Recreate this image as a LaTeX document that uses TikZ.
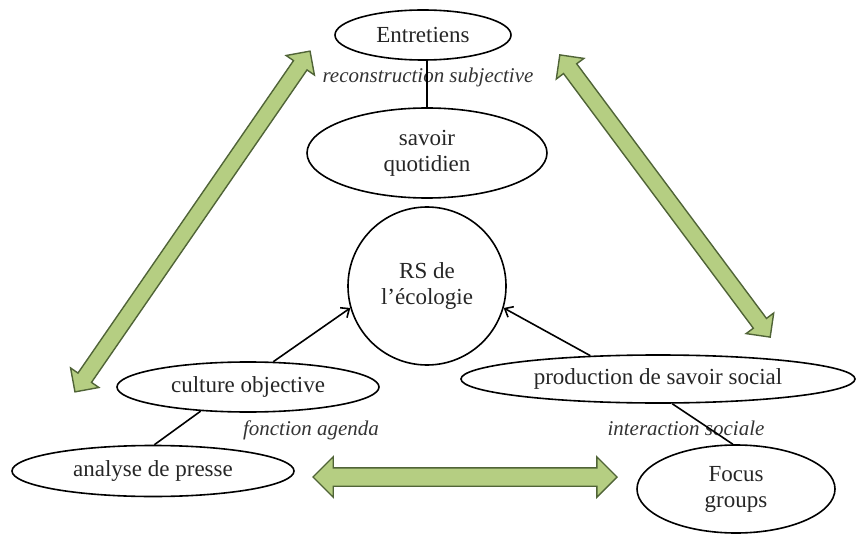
\documentclass[tikz,border=0pt]{standalone}
\usepackage{fontspec}
\setmainfont{Liberation Serif}
\usetikzlibrary{shapes.geometric,shapes.arrows,arrows.meta}

\definecolor{arrowfill}{RGB}{181,206,130}
\definecolor{arrowline}{RGB}{80,100,55}

\tikzset{
  oval/.style={draw, ellipse, line width=0.8pt, inner sep=0pt, align=center, text=black!85, font=\fontsize{11.5}{13}\selectfont},
  lbl/.style={text=black!80, font=\fontsize{10.5}{12}\selectfont\itshape},
  link/.style={line width=0.8pt},
  bigarrow/.style={double arrow, draw=arrowline, fill=arrowfill, line width=0.7pt, inner sep=3.75pt, double arrow head extend=4.5pt}
}

\begin{document}
\begin{tikzpicture}[x=0.5pt, y=-0.5pt, >={Straight Barb[length=3.5pt,width=6pt]}]
\useasboundingbox (0,0) rectangle (856,534);

% green double arrows
\node[bigarrow, minimum height=207pt, rotate=55.4] (leftarrow) at (192.5,221.5) {};
\node[bigarrow, minimum height=176pt, rotate=-53.3] (rightarrow) at (665,196) {};
\node[bigarrow, minimum height=152pt, inner sep=4.25pt, double arrow head extend=5.5pt] (bottomarrow) at (465,477) {};

% ellipses
\node[oval, minimum width=88pt, minimum height=25pt] (entretiens) at (423,35) {Entretiens};
\node[oval, minimum width=120pt, minimum height=45pt] (savoir) at (427,153) {savoir\\quotidien};
\node[oval, circle, minimum size=79pt] (rs) at (427,286) {RS de\\l'écologie};
\node[oval, minimum width=131pt, minimum height=25pt] (culture) at (248,387) {culture objective};
\node[oval, minimum width=141pt, minimum height=25.5pt] (analyse) at (153,471) {analyse de presse};
\node[oval, minimum width=197pt, minimum height=24pt] (production) at (658,379) {production de savoir social};
\node[oval, minimum width=99pt, minimum height=44pt] (focus) at (736,489) {Focus\\groups};

% labels
\node[lbl] (reconstruction) at (428,77) {reconstruction subjective};
\node[lbl] (agenda) at (311,430) {fonction agenda};
\node[lbl] (interaction) at (686,428) {interaction sociale};

% links
\draw[link] (savoir.north) -- (savoir.north |- entretiens.south);
\draw[link] (culture.207) -- (analyse.87);
\draw[link] (production.300) -- (focus.94);
\draw[link, ->] (culture.45) -- (rs.196);
\draw[link, ->] (production.161) -- (rs.344);
\end{tikzpicture}
\end{document}
